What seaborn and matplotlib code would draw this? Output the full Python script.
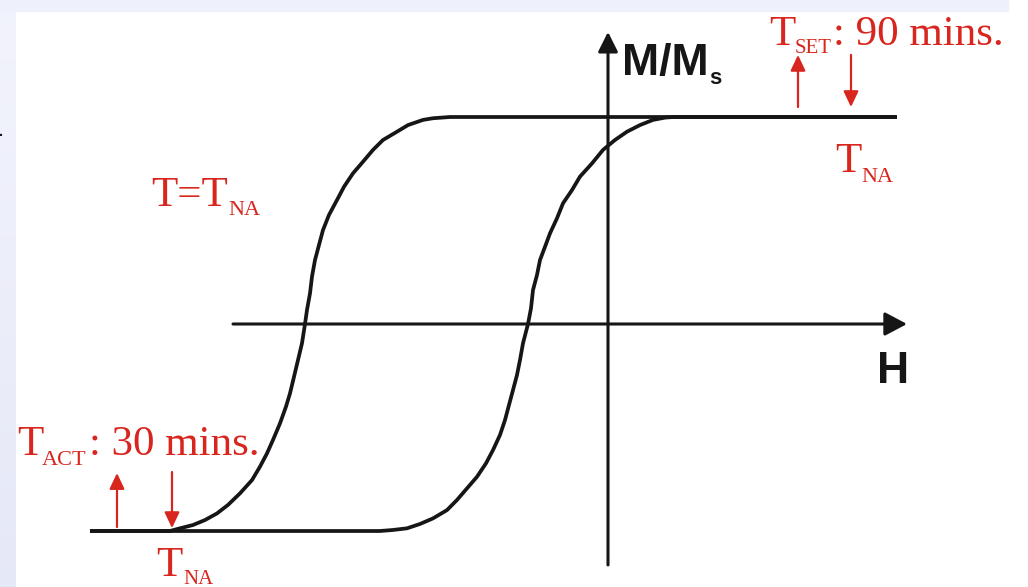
import numpy as np
import pandas as pd
import seaborn as sns
import matplotlib.pyplot as plt
from matplotlib.patches import Rectangle

# Hysteresis loop (H in arbitrary units, M/Ms)
# descending branch: top flat from the right, then down to the bottom flat
h_down = [2.89, -1.58, -1.75, -1.85, -2.00, -2.11, -2.25, -2.35, -2.45, -2.55, -2.64,
          -2.71, -2.79, -2.85, -2.89, -2.93, -2.96, -2.98, -3.01, -3.03, -3.06, -3.10,
          -3.14, -3.18, -3.22, -3.28, -3.35, -3.41, -3.48, -3.56, -3.68, -3.80, -3.91,
          -4.03, -4.15, -4.28, -4.38, -5.18]
m_down = [1.0, 1.0, 0.994, 0.986, 0.961, 0.929, 0.889, 0.841, 0.784, 0.728, 0.663,
          0.599, 0.527, 0.454, 0.382, 0.309, 0.229, 0.148, 0.068, 0.0, -0.093, -0.174,
          -0.255, -0.335, -0.399, -0.480, -0.560, -0.625, -0.689, -0.754, -0.818, -0.874, -0.915,
          -0.947, -0.971, -0.987, -1.0, -1.0]
# ascending branch: bottom flat from the left, then up to the top flat
h_up = [-5.18, -2.28, -2.15, -2.01, -1.88, -1.75, -1.61, -1.51, -1.41, -1.31, -1.22,
        -1.15, -1.08, -1.03, -0.99, -0.95, -0.91, -0.88, -0.85, -0.80, -0.77, -0.75,
        -0.71, -0.68, -0.63, -0.58, -0.51, -0.45, -0.36, -0.28, -0.16, -0.05, 0.07,
        0.19, 0.32, 0.45, 0.57, 0.65, 2.89]
m_up = [-1.0, -1.0, -0.995, -0.987, -0.966, -0.939, -0.899, -0.850, -0.794, -0.738, -0.673,
        -0.609, -0.536, -0.464, -0.391, -0.319, -0.246, -0.174, -0.093, 0.0, 0.076, 0.164,
        0.237, 0.309, 0.373, 0.438, 0.511, 0.583, 0.647, 0.712, 0.776, 0.841, 0.889,
        0.929, 0.961, 0.986, 0.997, 1.0, 1.0]

# field positions of the little red arrows (T_SET on top, T_ACT at the bottom)
h_set_arrows = [1.90, 2.43]
h_act_arrows = [-4.91, -4.36]

df = pd.concat([
    pd.DataFrame({'H': h_down, 'M': m_down, 'branch': 'down'}),
    pd.DataFrame({'H': h_up, 'M': m_up, 'branch': 'up'}),
])

sns.set_style('white')
serif = ['Liberation Serif', 'DejaVu Serif']
sans = ['Liberation Sans Narrow', 'Liberation Sans', 'DejaVu Sans']
plt.rcParams['font.family'] = serif

W, H = 1028, 587
red = '#d8261f'
ink = '#161616'

fig = plt.figure(figsize=(W / 100, H / 100), dpi=100)
fig.patch.set_facecolor('white')

# lavender slide frame (top and left bands)
fig.patches.append(Rectangle((0, 1 - 11 / H), 1008 / W, 11 / H, transform=fig.transFigure,
                             color='#eef0fb', zorder=0))
band = fig.add_axes([0, 0, 16 / W, 1])
grad = np.linspace(0, 1, 100)[:, None, None]
top_c = np.array([0.95, 0.955, 0.99])
bot_c = np.array([0.90, 0.91, 0.97])
band.imshow(top_c * (1 - grad) + bot_c * grad, aspect='auto')
band.axis('off')

ax = fig.add_axes([0, 0, 1, 1])
ax.set_facecolor('none')
ax.set_xlim(-6.08, 4.20)
ax.set_ylim(-1.2705, 1.5652)
ax.axis('off')

sns.lineplot(data=df, x='H', y='M', units='branch', estimator=None, sort=False,
             color=ink, lw=2.7, ax=ax, legend=False)
for ln in ax.lines:
    ln.set_solid_joinstyle('round')
    ln.set_solid_capstyle('butt')

# coordinate axes with arrow heads
ax.annotate('', xy=(2.99, 0), xytext=(-3.75, 0),
            arrowprops=dict(arrowstyle='-|>,head_length=0.68,head_width=0.36',
                            mutation_scale=20, lw=2.2, color=ink, shrinkA=0, shrinkB=0))
ax.annotate('', xy=(0, 1.411), xytext=(0, -1.164),
            arrowprops=dict(arrowstyle='-|>,head_length=0.6,head_width=0.3',
                            mutation_scale=20, lw=2.2, color=ink, shrinkA=0, shrinkB=0))

# red arrows
red_style = dict(arrowstyle='-|>,head_length=0.95,head_width=0.45', mutation_scale=10,
                 lw=1.6, color=red, shrinkA=0, shrinkB=0)
ax.annotate('', xy=(h_set_arrows[0], 1.30), xytext=(h_set_arrows[0], 1.048), arrowprops=red_style)
ax.annotate('', xy=(h_set_arrows[1], 1.048), xytext=(h_set_arrows[1], 1.30), arrowprops=red_style)
ax.annotate('', xy=(h_act_arrows[0], -0.720), xytext=(h_act_arrows[0], -0.981), arrowprops=red_style)
ax.annotate('', xy=(h_act_arrows[1], -0.986), xytext=(h_act_arrows[1], -0.715), arrowprops=red_style)


def put(s, x, y, size, color=red, family=serif, weight='normal', ha='left'):
    fig.text(x / W, 1 - y / H, s, fontsize=size, color=color, family=family,
             weight=weight, ha=ha, va='baseline')


# red labels
put('T', 769, 45, 31)
put('SET', 795, 53, 15)
put(': 90 mins.', 833, 45, 31)
put('T', 835, 172, 31)
put('NA', 861, 182, 16)
put('T=T', 151, 206, 31)
put('NA', 228, 215, 16)
put('T', 17, 455, 31)
put('ACT', 42, 465, 16)
put(': 30 mins.', 89, 455, 31)
put('T', 156, 576, 31)
put('NA', 183, 584, 15)

# axis labels
put('M/M', 622, 75, 32, color=ink, family=sans, weight='bold')
put('s', 709, 84, 16, color=ink, family=sans, weight='bold')
put('H', 893, 383, 32, color=ink, family=sans, weight='bold', ha='center')
put('.', -2, 136, 16, color=ink, family=sans)

fig.savefig('out.png', dpi=100, facecolor='white')
plt.close()
